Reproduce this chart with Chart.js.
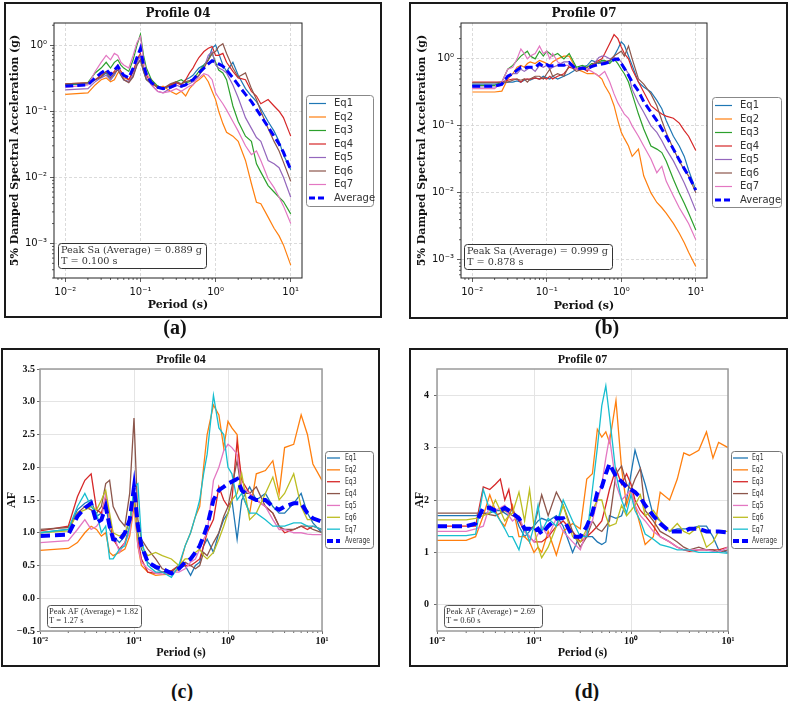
<!DOCTYPE html>
<html>
<head>
<meta charset="utf-8">
<script src="https://cdn.jsdelivr.net/npm/chart.js@4"></script>
<style>
  body { margin: 0; background: #fff; width: 789px; height: 701px; position: relative; overflow: hidden; }
  canvas { position: absolute; }
  .box { position: absolute; border: 2px solid #1a1a1a; box-sizing: border-box; pointer-events: none; }
  .cap { position: absolute; width: 60px; text-align: center; font: bold 20px 'Liberation Serif', serif; line-height: 20px; color: #111; }
</style>
</head>
<body>
<canvas id="ca" width="378" height="316" style="left:4px;top:2px"></canvas>
<canvas id="cb" width="379" height="317" style="left:409px;top:2px"></canvas>
<canvas id="cc" width="379" height="319" style="left:1px;top:348px"></canvas>
<canvas id="cd" width="379" height="319" style="left:409px;top:348px"></canvas>
<div class="box" style="left:4px;top:2px;width:378px;height:316px"></div>
<div class="box" style="left:409px;top:2px;width:379px;height:317px"></div>
<div class="box" style="left:1px;top:348px;width:379px;height:319px"></div>
<div class="box" style="left:409px;top:348px;width:379px;height:319px"></div>
<div class="cap" style="left:145px;top:317px">(a)</div>
<div class="cap" style="left:577px;top:317px">(b)</div>
<div class="cap" style="left:152px;top:681px">(c)</div>
<div class="cap" style="left:557px;top:681px">(d)</div>
<script>
// periods (s) shared by every curve
const periods = [
  0.01, 0.02, 0.025, 0.03, 0.035, 0.04, 0.045, 0.05, 0.055, 0.06,
  0.07, 0.08, 0.09, 0.1, 0.11, 0.12, 0.14, 0.17, 0.2, 0.25,
  0.3, 0.35, 0.4, 0.45, 0.5, 0.55, 0.6, 0.7, 0.8, 0.9,
  1.0, 1.1, 1.25, 1.4, 1.7, 2.0, 2.5, 3.0, 3.5, 4.0,
  5.0, 6.0, 7.0, 8.0, 10.0];
const eqLabels = ['Eq1', 'Eq2', 'Eq3', 'Eq4', 'Eq5', 'Eq6', 'Eq7'];

const periodTicks = [0.01, 0.1, 1, 10];
const saTicks = [0.001, 0.01, 0.1, 1];
const af04Ticks = [-0.5, 0, 0.5, 1, 1.5, 2, 2.5, 3, 3.5];
const af07Ticks = [0, 1, 2, 3, 4];

// Profile 04 - spectral acceleration (g)
const sa04Eq1 = [0.25,0.26,0.3,0.33,0.38,0.3,0.35,0.45,0.35,0.3, 0.28,0.35,0.5,0.6,0.4,0.3,0.26,0.24,0.22,0.24, 0.27,0.26,0.3,0.32,0.35,0.4,0.45,0.5,0.6,0.9, 1.0,0.75,0.5,0.4,0.55,0.35,0.22,0.17,0.14,0.11, 0.07,0.05,0.035,0.022,0.013];
const sa04Eq2 = [0.18,0.19,0.25,0.3,0.32,0.28,0.3,0.38,0.4,0.32, 0.3,0.4,0.55,0.7,0.45,0.35,0.3,0.22,0.24,0.2, 0.18,0.2,0.17,0.22,0.25,0.28,0.3,0.35,0.28,0.2, 0.15,0.1,0.065,0.048,0.042,0.035,0.018,0.008,0.0042,0.004, 0.0025,0.0017,0.0013,0.00095,0.00047];
const sa04Eq3 = [0.25,0.27,0.38,0.45,0.55,0.45,0.55,0.6,0.5,0.45, 0.4,0.6,1.0,1.45,0.7,0.45,0.3,0.24,0.22,0.25, 0.28,0.3,0.27,0.28,0.3,0.35,0.4,0.5,0.6,0.75, 0.55,0.42,0.38,0.3,0.12,0.07,0.042,0.035,0.016,0.012, 0.0075,0.006,0.005,0.0043,0.0028];
const sa04Eq4 = [0.26,0.27,0.3,0.35,0.4,0.35,0.4,0.5,0.4,0.35, 0.3,0.4,0.6,0.75,0.45,0.35,0.27,0.23,0.22,0.25, 0.27,0.25,0.3,0.38,0.45,0.55,0.65,0.8,0.9,0.95, 0.7,0.7,0.75,0.55,0.4,0.32,0.3,0.2,0.17,0.13, 0.15,0.12,0.1,0.08,0.042];
const sa04Eq5 = [0.21,0.22,0.28,0.32,0.35,0.3,0.36,0.45,0.38,0.3, 0.28,0.35,0.55,0.7,0.45,0.32,0.25,0.2,0.19,0.22, 0.25,0.23,0.25,0.26,0.28,0.3,0.35,0.45,0.7,0.8, 0.5,0.45,0.42,0.38,0.25,0.16,0.08,0.055,0.04,0.035, 0.018,0.016,0.014,0.01,0.005];
const sa04Eq6 = [0.26,0.27,0.3,0.33,0.4,0.32,0.38,0.42,0.35,0.3, 0.27,0.33,0.5,0.6,0.4,0.3,0.26,0.23,0.22,0.26, 0.28,0.26,0.28,0.29,0.3,0.32,0.35,0.45,0.6,0.75, 0.8,0.95,1.05,0.75,0.45,0.33,0.38,0.22,0.15,0.1, 0.055,0.035,0.025,0.017,0.0087];
const sa04Eq7 = [0.23,0.25,0.4,0.55,0.7,0.6,0.75,0.7,0.55,0.5, 0.45,0.7,1.1,1.35,0.6,0.4,0.25,0.2,0.19,0.2, 0.22,0.2,0.22,0.24,0.25,0.3,0.32,0.37,0.35,0.3, 0.19,0.16,0.13,0.105,0.07,0.05,0.03,0.022,0.025,0.018, 0.0095,0.007,0.005,0.0037,0.002];
const sa04Avg = [0.24,0.25,0.32,0.38,0.43,0.36,0.42,0.48,0.4,0.35, 0.32,0.45,0.65,0.89,0.5,0.36,0.27,0.23,0.22,0.23, 0.25,0.24,0.25,0.28,0.3,0.34,0.38,0.45,0.52,0.58, 0.55,0.52,0.48,0.42,0.32,0.25,0.18,0.14,0.107,0.085, 0.058,0.042,0.032,0.024,0.013];

// Profile 07 - spectral acceleration (g)
const sa07Eq1 = [0.42,0.42,0.43,0.45,0.45,0.47,0.45,0.48,0.5,0.48, 0.52,0.5,0.55,0.52,0.5,0.55,0.5,0.55,0.6,0.7, 0.75,0.8,0.95,0.9,0.85,0.9,0.9,0.9,1.1,1.4, 1.8,1.6,1.1,0.8,0.45,0.38,0.32,0.24,0.18,0.12, 0.07,0.05,0.035,0.022,0.011];
const sa07Eq2 = [0.32,0.32,0.33,0.5,0.6,0.75,0.8,0.75,0.85,0.9, 0.85,0.95,0.9,0.85,0.8,0.9,1.0,1.1,1.1,0.7, 0.65,0.6,0.6,0.6,0.55,0.5,0.4,0.3,0.2,0.12, 0.08,0.065,0.05,0.035,0.045,0.018,0.01,0.0072,0.006,0.005, 0.0035,0.0025,0.0018,0.0013,0.0008];
const sa07Eq3 = [0.4,0.4,0.45,0.7,0.8,0.95,1.1,1.2,1.3,1.1, 1.0,1.3,1.1,1.3,1.2,1.1,1.2,1.0,1.2,0.75, 0.8,0.75,0.85,0.85,0.9,0.95,0.95,0.85,1.0,0.85, 0.7,0.6,0.45,0.3,0.15,0.09,0.05,0.045,0.04,0.03, 0.016,0.01,0.007,0.005,0.0028];
const sa07Eq4 = [0.45,0.45,0.45,0.48,0.5,0.5,0.45,0.5,0.5,0.5, 0.52,0.5,0.52,0.5,0.55,0.5,0.55,0.6,0.75,0.7, 0.75,0.65,0.8,0.9,0.95,1.0,1.2,1.7,2.3,2.0, 1.5,1.2,1.0,0.7,0.45,0.32,0.2,0.17,0.15,0.14, 0.13,0.11,0.085,0.07,0.043];
const sa07Eq5 = [0.38,0.38,0.4,0.55,0.6,0.6,0.7,0.65,0.7,0.75, 0.65,0.8,0.75,0.8,0.7,0.75,0.8,0.9,0.9,0.7, 0.7,0.7,0.75,0.9,1.05,1.1,1.1,1.0,1.05,1.0, 0.9,0.75,0.6,0.35,0.22,0.16,0.1,0.08,0.06,0.045, 0.03,0.02,0.014,0.01,0.0054];
const sa07Eq6 = [0.44,0.44,0.45,0.45,0.48,0.5,0.48,0.5,0.45,0.5, 0.55,0.55,0.5,0.6,0.7,0.55,0.6,0.55,0.8,0.65, 0.7,0.75,0.8,0.85,0.9,0.85,0.9,0.95,1.1,1.2, 1.3,1.1,1.55,1.0,0.5,0.42,0.3,0.2,0.12,0.08, 0.045,0.03,0.022,0.018,0.01];
const sa07Eq7 = [0.36,0.36,0.45,0.7,0.75,1.0,1.4,1.2,1.0,1.1, 1.2,1.55,1.2,1.3,1.0,1.2,0.9,0.8,0.8,0.7, 0.75,0.7,0.65,0.6,0.55,0.6,0.65,0.45,0.3,0.22, 0.18,0.15,0.13,0.1,0.07,0.05,0.032,0.02,0.025,0.015, 0.009,0.006,0.0045,0.0035,0.002];
const sa07Avg = [0.39,0.39,0.42,0.55,0.6,0.68,0.75,0.72,0.75,0.75, 0.75,0.85,0.77,0.82,0.78,0.79,0.8,0.8,0.88,0.7, 0.73,0.7,0.77,0.8,0.82,0.84,0.85,0.9,0.97,1.0, 0.85,0.72,0.57,0.45,0.33,0.23,0.16,0.12,0.09,0.07, 0.045,0.031,0.023,0.018,0.011];

// Profile 04 - amplification factor
const af04Eq1 = [1.0,1.05,1.35,1.45,1.5,1.25,1.3,1.45,1.05,0.95, 0.85,0.95,1.2,1.55,1.0,0.75,0.55,0.45,0.4,0.38, 0.45,0.5,0.35,0.5,0.55,0.8,0.9,0.7,1.0,1.2, 1.3,1.5,0.9,1.5,1.7,1.5,1.6,1.4,1.3,1.3, 1.45,1.6,1.3,1.15,1.0];
const af04Eq2 = [0.73,0.76,0.85,1.0,1.1,1.05,0.95,1.0,0.7,0.65, 0.7,0.75,0.95,1.4,0.8,0.5,0.4,0.35,0.36,0.37, 0.45,0.8,1.0,1.25,1.4,2.0,2.5,2.95,2.8,2.3, 2.7,2.6,2.5,1.6,1.3,1.9,1.95,2.1,1.6,2.3, 2.35,2.8,2.5,2.05,1.8];
const af04Eq3 = [1.03,1.1,1.55,1.8,1.9,1.35,1.3,1.55,1.2,0.9, 0.75,0.85,1.1,1.6,0.9,0.6,0.4,0.38,0.4,0.42, 0.5,0.5,0.5,0.55,0.6,0.8,1.0,1.2,1.7,1.5, 1.4,1.5,2.4,1.8,1.6,1.5,1.4,1.3,1.1,1.0, 1.05,1.1,1.05,1.1,1.05];
const af04Eq4 = [1.05,1.08,1.3,1.4,1.35,1.3,1.4,1.75,1.8,1.4, 1.2,1.1,1.6,2.75,1.2,0.9,0.75,0.6,0.45,0.4, 0.5,0.55,0.5,0.45,0.5,0.7,0.65,0.85,1.0,1.25, 1.4,1.7,2.1,1.6,1.6,1.7,1.4,1.3,1.1,1.05, 1.05,1.1,1.1,1.05,1.0];
const af04Eq5 = [0.85,0.88,1.05,1.2,1.05,1.1,1.2,1.6,1.2,1.0, 0.7,0.85,1.0,1.5,0.8,0.55,0.45,0.38,0.37,0.4, 0.4,0.45,0.55,0.6,0.75,0.9,1.0,1.8,2.0,2.25, 2.35,2.3,2.2,1.7,1.6,1.5,1.4,1.2,1.05,1.05, 1.0,1.0,0.98,0.97,0.97];
const af04Eq6 = [1.0,1.03,1.3,1.35,1.4,1.35,1.5,1.65,1.3,1.0, 0.95,1.0,1.2,1.5,0.9,0.8,0.65,0.7,0.65,0.6, 0.5,0.6,0.6,0.7,0.75,0.65,0.6,0.7,0.9,1.1, 1.3,1.5,1.6,1.9,1.2,1.3,1.6,1.85,1.5,1.6, 1.9,1.4,1.2,1.2,1.2];
const af04Eq7 = [1.0,1.05,1.4,1.6,1.4,1.3,1.0,1.1,0.6,0.6, 0.75,0.8,1.1,1.7,1.75,0.9,0.5,0.4,0.4,0.32, 0.5,0.8,1.0,1.25,1.5,1.9,2.2,3.1,2.6,2.5, 2.0,1.9,1.5,1.6,1.3,1.3,1.2,1.1,1.1,1.1, 1.15,1.15,1.1,1.1,1.05];
const af04Avg = [0.95,0.97,1.25,1.38,1.45,1.15,1.2,1.4,1.1,0.9, 0.88,1.0,1.2,1.7,1.1,0.8,0.55,0.48,0.45,0.38, 0.45,0.55,0.6,0.7,0.8,0.95,1.1,1.5,1.65,1.7, 1.75,1.78,1.82,1.65,1.55,1.5,1.5,1.4,1.35,1.4, 1.45,1.45,1.3,1.22,1.17];

// Profile 07 - amplification factor
const af07Eq1 = [1.7,1.7,1.7,1.75,1.75,1.8,1.8,1.75,1.7,1.85, 1.5,1.3,1.4,1.5,1.6,1.65,1.6,1.7,1.5,1.0, 1.35,1.3,1.3,1.2,1.15,1.2,1.7,1.65,1.7,2.0, 2.5,2.95,2.6,2.3,1.7,1.6,1.4,1.45,1.45,1.45, 1.5,1.5,1.3,1.05,1.0];
const af07Eq2 = [1.23,1.23,1.3,1.7,2.1,1.8,1.6,1.5,1.7,1.9, 1.3,1.3,1.2,1.0,1.1,1.0,1.4,0.95,1.4,1.55, 1.45,2.4,2.5,3.35,3.2,3.3,3.1,3.9,2.6,1.9, 2.2,1.9,1.5,1.15,1.3,2.15,2.0,2.4,2.9,2.85, 2.95,3.3,2.8,3.1,3.0];
const af07Eq3 = [1.5,1.5,1.5,2.25,2.2,2.3,2.4,2.0,2.2,1.8, 1.6,1.4,1.3,1.2,1.2,1.2,1.3,1.5,1.6,1.4, 1.2,1.3,1.4,1.5,1.6,1.9,2.2,2.6,2.3,2.5, 2.3,2.0,1.8,1.7,1.5,1.3,1.2,1.1,1.05,1.02, 1.05,1.05,1.05,1.05,1.1];
const af07Eq4 = [1.75,1.75,1.75,1.75,1.72,1.7,1.75,1.8,1.75,1.7, 1.65,1.4,1.45,1.5,1.8,2.1,1.7,2.15,1.9,1.4, 1.1,1.3,1.6,1.45,1.4,1.5,1.6,2.5,2.65,2.3, 2.2,2.4,2.6,1.8,1.6,1.4,1.3,1.2,1.1,1.05, 1.1,1.05,1.05,1.0,1.05];
const af07Eq5 = [1.4,1.4,1.45,1.5,1.9,1.8,1.85,1.9,1.7,1.6, 1.7,1.4,1.3,1.2,1.35,1.5,1.3,1.65,1.4,1.2, 1.05,1.4,1.6,2.0,2.3,2.8,3.2,2.3,2.0,2.1, 2.2,1.9,1.7,1.6,1.4,1.3,1.2,1.1,1.05,1.05, 1.05,1.05,1.02,1.0,1.1];
const af07Eq6 = [1.62,1.62,1.65,1.7,1.75,2.0,1.8,1.6,1.7,1.75, 2.15,1.6,2.2,1.5,1.1,0.9,1.1,1.5,1.9,1.3, 1.2,1.45,1.8,2.0,2.0,1.7,1.5,1.55,1.9,1.7, 1.8,1.9,2.1,1.7,1.8,1.6,1.4,1.55,1.4,1.35, 1.5,1.1,1.2,1.4,1.4];
const af07Eq7 = [1.32,1.32,1.35,2.2,1.8,1.75,1.6,1.45,1.3,1.3, 1.05,1.5,1.2,1.5,1.9,1.4,1.65,1.5,2.0,1.6, 1.3,1.3,2.2,3.0,3.8,4.18,3.6,2.5,2.0,1.75, 2.1,1.8,1.6,1.35,1.25,1.15,1.1,1.05,1.05,1.05, 1.0,1.0,1.0,1.0,0.98];
const af07Avg = [1.5,1.5,1.55,1.85,1.85,1.8,1.8,1.85,1.8,1.75, 1.65,1.45,1.45,1.4,1.45,1.35,1.5,1.65,1.65,1.3, 1.3,1.5,1.75,2.15,2.25,2.5,2.69,2.45,2.35,2.25, 2.2,2.15,2.05,1.9,1.7,1.55,1.4,1.4,1.4,1.45, 1.45,1.4,1.4,1.4,1.38];

const noteA = ['Peak Sa (Average) = 0.889 g', 'T = 0.100 s'];
const noteB = ['Peak Sa (Average) = 0.999 g', 'T = 0.878 s'];
const noteC = ['Peak AF (Average) = 1.82', 'T = 1.27 s'];
const noteD = ['Peak AF (Average) = 2.69', 'T = 0.60 s'];

const saColors = ['#1f77b4', '#ff7f0e', '#2ca02c', '#d62728', '#9467bd', '#8c564b', '#e377c2'];
const afColors = ['#1f77b4', '#ff7f0e', '#d62728', '#8c564b', '#e377c2', '#bcbd22', '#17becf'];

const SANS = "'DejaVu Sans', sans-serif";
const SERIF = "'DejaVu Serif', serif";
const TIMES = "'Liberation Serif', serif";

function pow10Label(v) {
  const sup = {'-': '\u207b', '0': '\u2070', '1': '\u00b9', '2': '\u00b2', '3': '\u00b3'};
  const e = Math.round(Math.log10(v));
  return '10' + String(e).split('').map(c => sup[c]).join('');
}

// frame, minor log ticks, note box and matplotlib-like legend
function extras(p) {
  return {
    id: 'extras',
    afterDraw(chart) {
      const ctx = chart.ctx, a = chart.chartArea;
      ctx.save();
      ctx.strokeStyle = p.tickColor;
      ctx.lineWidth = 0.8;
      ['x', 'y'].forEach(id => {
        const s = chart.scales[id];
        if (s.type !== 'logarithmic') return;
        const lo = Math.floor(Math.log10(s.min)), hi = Math.ceil(Math.log10(s.max));
        for (let d = lo; d <= hi; d++) {
          for (let k = 2; k < 10; k++) {
            const v = k * Math.pow(10, d);
            if (v < s.min || v > s.max) continue;
            const px = s.getPixelForValue(v);
            ctx.beginPath();
            if (id === 'x') { ctx.moveTo(px, a.bottom); ctx.lineTo(px, a.bottom + p.minorLen); }
            else { ctx.moveTo(a.left, px); ctx.lineTo(a.left - p.minorLen, px); }
            ctx.stroke();
          }
        }
      });
      ctx.strokeStyle = p.frameColor;
      ctx.lineWidth = p.frameW;
      ctx.strokeRect(a.left, a.top, a.right - a.left, a.bottom - a.top);

      const n = p.note;
      ctx.beginPath();
      ctx.roundRect(n.x + 0.5, n.y + 0.5, n.w, n.h, 3);
      ctx.fillStyle = '#fff'; ctx.fill();
      ctx.strokeStyle = n.edge; ctx.lineWidth = 1; ctx.stroke();
      ctx.fillStyle = '#333'; ctx.font = n.font; ctx.textBaseline = 'middle'; ctx.textAlign = 'left';
      n.lines.forEach((t, i) => ctx.fillText(t, n.x + n.pad, n.y + n.y0 + i * n.dy));

      const L = p.legend;
      ctx.beginPath();
      ctx.roundRect(L.x + 0.5, L.y + 0.5, L.w, L.h, 3);
      ctx.fillStyle = '#fff'; ctx.fill();
      ctx.strokeStyle = L.edge; ctx.lineWidth = 1; ctx.stroke();
      ctx.font = L.font;
      chart.data.datasets.forEach((ds, i) => {
        const y = L.y + L.y0 + i * L.dy;
        ctx.strokeStyle = ds.borderColor;
        ctx.lineWidth = ds.borderWidth;
        ctx.setLineDash(ds.borderDash ? L.dash : []);
        ctx.beginPath(); ctx.moveTo(L.x + L.s0, y); ctx.lineTo(L.x + L.s1, y); ctx.stroke();
        ctx.setLineDash([]);
        ctx.save();
        ctx.translate(L.x + L.tx, y);
        ctx.scale(L.squeeze, 1);
        ctx.fillStyle = '#333';
        ctx.fillText(ds.label, 0, 0);
        ctx.restore();
      });
      ctx.restore();
    }
  };
}

function buildChart(id, p) {
  const cv = document.getElementById(id);
  const W = cv.width, H = cv.height, A = p.area;
  const datasets = p.series.map((arr, i) => ({
    label: eqLabels[i],
    data: periods.map((t, k) => ({x: t, y: arr[k]})),
    borderColor: p.colors[i],
    borderWidth: p.lineW,
    pointRadius: 0,
    order: 10 - i
  }));
  datasets.push({
    label: 'Average',
    data: periods.map((t, k) => ({x: t, y: p.avg[k]})),
    borderColor: '#0000ff',
    borderWidth: p.avgW,
    borderDash: p.avgDash,
    pointRadius: 0,
    order: 0
  });
  const lhTitle = p.titleFont.size * 1.2;
  const lhAxis = p.axisFont.size * 1.2;
  const grid = {color: p.gridColor, lineWidth: p.gridW, tickColor: p.tickColor, tickLength: p.tickLen, tickWidth: 0.8};
  return new Chart(cv, {
    type: 'line',
    data: {datasets},
    plugins: [extras(p)],
    options: {
      responsive: false,
      animation: false,
      devicePixelRatio: 1,
      events: [],
      layout: {padding: {left: 0, top: 0, right: W - A.r, bottom: 0}},
      plugins: {
        legend: {display: false},
        tooltip: {enabled: false},
        title: {
          display: true, text: p.title, fullSize: false, color: '#111',
          font: Object.assign({lineHeight: 1.2}, p.titleFont),
          padding: {top: p.titleY - lhTitle / 2, bottom: A.t - p.titleY - lhTitle / 2}
        }
      },
      scales: {
        x: {
          type: 'logarithmic', min: p.xMin, max: p.xMax,
          afterBuildTicks: s => { s.ticks = periodTicks.map(v => ({value: v})); },
          afterFit: s => { s.height = H - A.b; },
          grid: grid,
          border: {display: false, dash: p.gridDash},
          ticks: {autoSkip: false, maxRotation: 0, padding: p.xPad, color: '#111', font: p.tickFont, callback: v => pow10Label(v)},
          title: {display: true, text: 'Period (s)', color: '#111', font: p.axisFont,
            padding: {top: 0, bottom: H - p.xTitleY - lhAxis / 2}}
        },
        y: {
          type: p.yType, min: p.yMin, max: p.yMax,
          afterBuildTicks: s => { s.ticks = p.yTicks.map(v => ({value: v})); },
          afterFit: s => { s.width = A.l; },
          grid: grid,
          border: {display: false, dash: p.gridDash},
          ticks: {autoSkip: false, padding: p.yPad, color: '#111', font: p.tickFont, callback: p.yFmt},
          title: {display: true, text: p.yTitle, color: '#111', font: p.axisFont,
            padding: {top: p.yTitleX - lhAxis / 2, bottom: 0}}
        }
      }
    }
  });
}

const saStyle = {
  colors: saColors, lineW: 1.2, avgW: 3, avgDash: [8, 4],
  xMin: Math.pow(10, -2.15), xMax: Math.pow(10, 1.15),
  yType: 'logarithmic', yTicks: saTicks, yFmt: v => pow10Label(v),
  yTitle: '5% Damped Spectral Acceleration (g)',
  titleFont: {family: SERIF, size: 12, weight: 'bold'},
  axisFont: {family: SERIF, size: 11, weight: 'bold'},
  tickFont: {family: SANS, size: 10},
  gridColor: '#d2d2d2', gridW: 0.8, gridDash: [3, 2],
  tickColor: '#333', tickLen: 4, minorLen: 2, xPad: 4, yPad: 3,
  frameColor: '#222', frameW: 1,
  titleY: 12
};
const afStyle = {
  colors: afColors, lineW: 1.3, avgW: 4, avgDash: [10, 5],
  xMin: 0.01, xMax: 10, yType: 'linear',
  yTitle: 'AF',
  titleFont: {family: TIMES, size: 12, weight: 'bold'},
  axisFont: {family: TIMES, size: 12, weight: 'bold'},
  tickFont: {family: TIMES, size: 10, weight: 'bold'},
  gridColor: '#e4e4e4', gridW: 1, gridDash: [],
  tickColor: '#444', tickLen: 3, minorLen: 2, xPad: 1,
  frameColor: '#9a9a9a', frameW: 1.5,
  titleY: 12, yTitleX: 11, xTitleY: 305
};
const saLegend = {s0: 3, s1: 20, tx: 28, y0: 8.5, dy: 13.5, font: '10px ' + SANS, squeeze: 1, edge: '#888', dash: [6, 3]};
const afLegend = {s0: 2, s1: 15, tx: 20, y0: 7, dy: 11.86, font: '9px ' + SANS, squeeze: 0.68, edge: '#777', dash: [6, 3]};

buildChart('ca', Object.assign({}, saStyle, {
  title: 'Profile 04',
  series: [sa04Eq1, sa04Eq2, sa04Eq3, sa04Eq4, sa04Eq5, sa04Eq6, sa04Eq7], avg: sa04Avg,
  area: {l: 50, t: 21, r: 298, b: 276},
  yMin: Math.pow(10, -3.5), yMax: Math.pow(10, 0.335),
  yTitleX: 11, xTitleY: 303,
  legend: Object.assign({x: 302, y: 93, w: 67, h: 111}, saLegend),
  note: {x: 54, y: 241, w: 148, h: 25, pad: 3, y0: 7.7, dy: 10.3, font: '9.7px ' + SERIF, edge: '#333', lines: noteA}
}));

buildChart('cb', Object.assign({}, saStyle, {
  title: 'Profile 07',
  series: [sa07Eq1, sa07Eq2, sa07Eq3, sa07Eq4, sa07Eq5, sa07Eq6, sa07Eq7], avg: sa07Avg,
  area: {l: 52, t: 21, r: 298, b: 276},
  yMin: Math.pow(10, -3.27), yMax: Math.pow(10, 0.535),
  yTitleX: 13, xTitleY: 304,
  legend: Object.assign({x: 303, y: 95, w: 69, h: 110}, saLegend),
  note: {x: 55, y: 242, w: 148, h: 25, pad: 3, y0: 7.7, dy: 10.3, font: '9.7px ' + SERIF, edge: '#333', lines: noteB}
}));

buildChart('cc', Object.assign({}, afStyle, {
  title: 'Profile 04',
  series: [af04Eq1, af04Eq2, af04Eq3, af04Eq4, af04Eq5, af04Eq6, af04Eq7], avg: af04Avg,
  area: {l: 39, t: 21, r: 321, b: 283},
  yMin: -0.5, yMax: 3.5, yTicks: af04Ticks, yPad: 2,
  yFmt: v => (v < 0 ? '\u2212' : '') + Math.abs(v).toFixed(1),
  legend: Object.assign({x: 324, y: 103, w: 48, h: 97}, afLegend),
  note: {x: 46, y: 257, w: 94, h: 22, pad: 2, y0: 6.7, dy: 9.3, font: '8.5px ' + TIMES, edge: '#555', lines: noteC}
}));

buildChart('cd', Object.assign({}, afStyle, {
  title: 'Profile 07',
  series: [af07Eq1, af07Eq2, af07Eq3, af07Eq4, af07Eq5, af07Eq6, af07Eq7], avg: af07Avg,
  area: {l: 28, t: 21, r: 319, b: 283},
  yMin: -0.5, yMax: 4.5, yTicks: af07Ticks, yPad: 5,
  yFmt: v => v.toFixed(0),
  legend: Object.assign({x: 322, y: 103, w: 51, h: 97}, afLegend, {s1: 17, tx: 21}),
  note: {x: 35, y: 257, w: 98, h: 22, pad: 2, y0: 6.7, dy: 9.3, font: '8.5px ' + TIMES, edge: '#555', lines: noteD}
}));
</script>
</body>
</html>
